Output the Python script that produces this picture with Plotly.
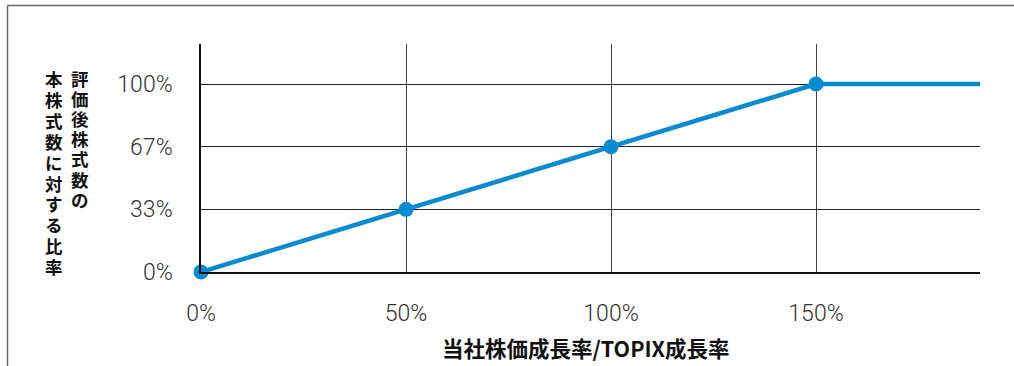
import plotly.graph_objects as go

x_vals = [0, 50, 100, 150, 190]
y_vals = [0, 100/3, 200/3, 100, 100]
marker_x = [0, 50, 100, 150]
marker_y = [0, 100/3, 200/3, 100]
x_tick_vals = [0, 50, 100, 150]
x_tick_text = ["0%", "50%", "100%", "150%"]
y_tick_vals = [0, 100/3, 200/3, 100]
y_tick_text = ["0%", "33%", "67%", "100%"]
y_title_col1 = "評価後株式数の"
y_title_col2 = "本株式数に対する比率"
x_title = "当社株価成長率/TOPIX成長率"

FONT = "Noto Sans CJK JP, Noto Sans, Lato, sans-serif"
TICKFONT = "Roboto, Noto Sans, sans-serif"
BLUE = "#0a8ad0"

fig = go.Figure()
fig.add_trace(go.Scatter(x=x_vals, y=y_vals, mode="lines",
                         line=dict(color=BLUE, width=4.5), hoverinfo="skip",
                         showlegend=False))
fig.add_trace(go.Scatter(x=marker_x, y=marker_y, mode="markers",
                         marker=dict(color=BLUE, size=15), cliponaxis=False,
                         showlegend=False))

fig.update_layout(
    width=1014, height=366,
    margin=dict(l=201, r=34, t=44, b=94),
    paper_bgcolor="white", plot_bgcolor="white",
    font=dict(family=FONT, color="#333333", size=19),
    xaxis=dict(range=[0, 190], tickvals=x_tick_vals, ticktext=x_tick_text,
               showgrid=True, gridcolor="#444444", gridwidth=1,
               zeroline=False, showline=True, linecolor="#111111", linewidth=1.5,
               ticks="outside", ticklen=20, tickcolor="rgba(0,0,0,0)",
               tickfont=dict(family=TICKFONT, size=23, color="#333333", weight=300),
               automargin=False),
    yaxis=dict(range=[0, 121.3], tickvals=y_tick_vals, ticktext=y_tick_text,
               showgrid=True, gridcolor="#222222", gridwidth=1,
               zeroline=False, showline=True, linecolor="#111111", linewidth=1.5,
               ticks="outside", ticklen=22, tickcolor="rgba(0,0,0,0)",
               tickfont=dict(family=TICKFONT, size=23, color="#333333", weight=300),
               automargin=False),
)

def px_x(px):
    return (px - 201) / 779

def px_y(py):
    return (272 - py) / 228

# vertical (upright) Japanese axis title, one glyph per slot, right column first
for i, ch in enumerate(y_title_col1):
    fig.add_annotation(text="<b>" + ch + "</b>", xref="paper", yref="paper",
                       x=px_x(80), y=px_y(78 + 20.2 * i), xanchor="center", yanchor="middle",
                       showarrow=False, height=19, borderpad=0,
                       font=dict(family=FONT, size=17.5, color="#111111"))
for i, ch in enumerate(y_title_col2):
    fig.add_annotation(text="<b>" + ch + "</b>", xref="paper", yref="paper",
                       x=px_x(54), y=px_y(78.5 + 20.9 * i), xanchor="center", yanchor="middle",
                       showarrow=False, height=19, borderpad=0,
                       font=dict(family=FONT, size=17.5, color="#111111"))

fig.add_annotation(text="<b>" + x_title + "</b>", xref="paper", yref="paper",
                   x=px_x(586), y=px_y(347), xanchor="center", yanchor="middle",
                   showarrow=False, font=dict(family=FONT, size=21.5, color="#111111"))

# frame lines (top and left edges of the surrounding box)
fig.add_shape(type="line", xref="paper", yref="paper",
              x0=px_x(7.5), x1=px_x(1014), y0=px_y(5.5), y1=px_y(5.5),
              line=dict(color="#666666", width=1.5))
fig.add_shape(type="line", xref="paper", yref="paper",
              x0=px_x(7.5), x1=px_x(7.5), y0=px_y(5.5), y1=px_y(366),
              line=dict(color="#666666", width=1.5))

fig.write_html("out.html")
